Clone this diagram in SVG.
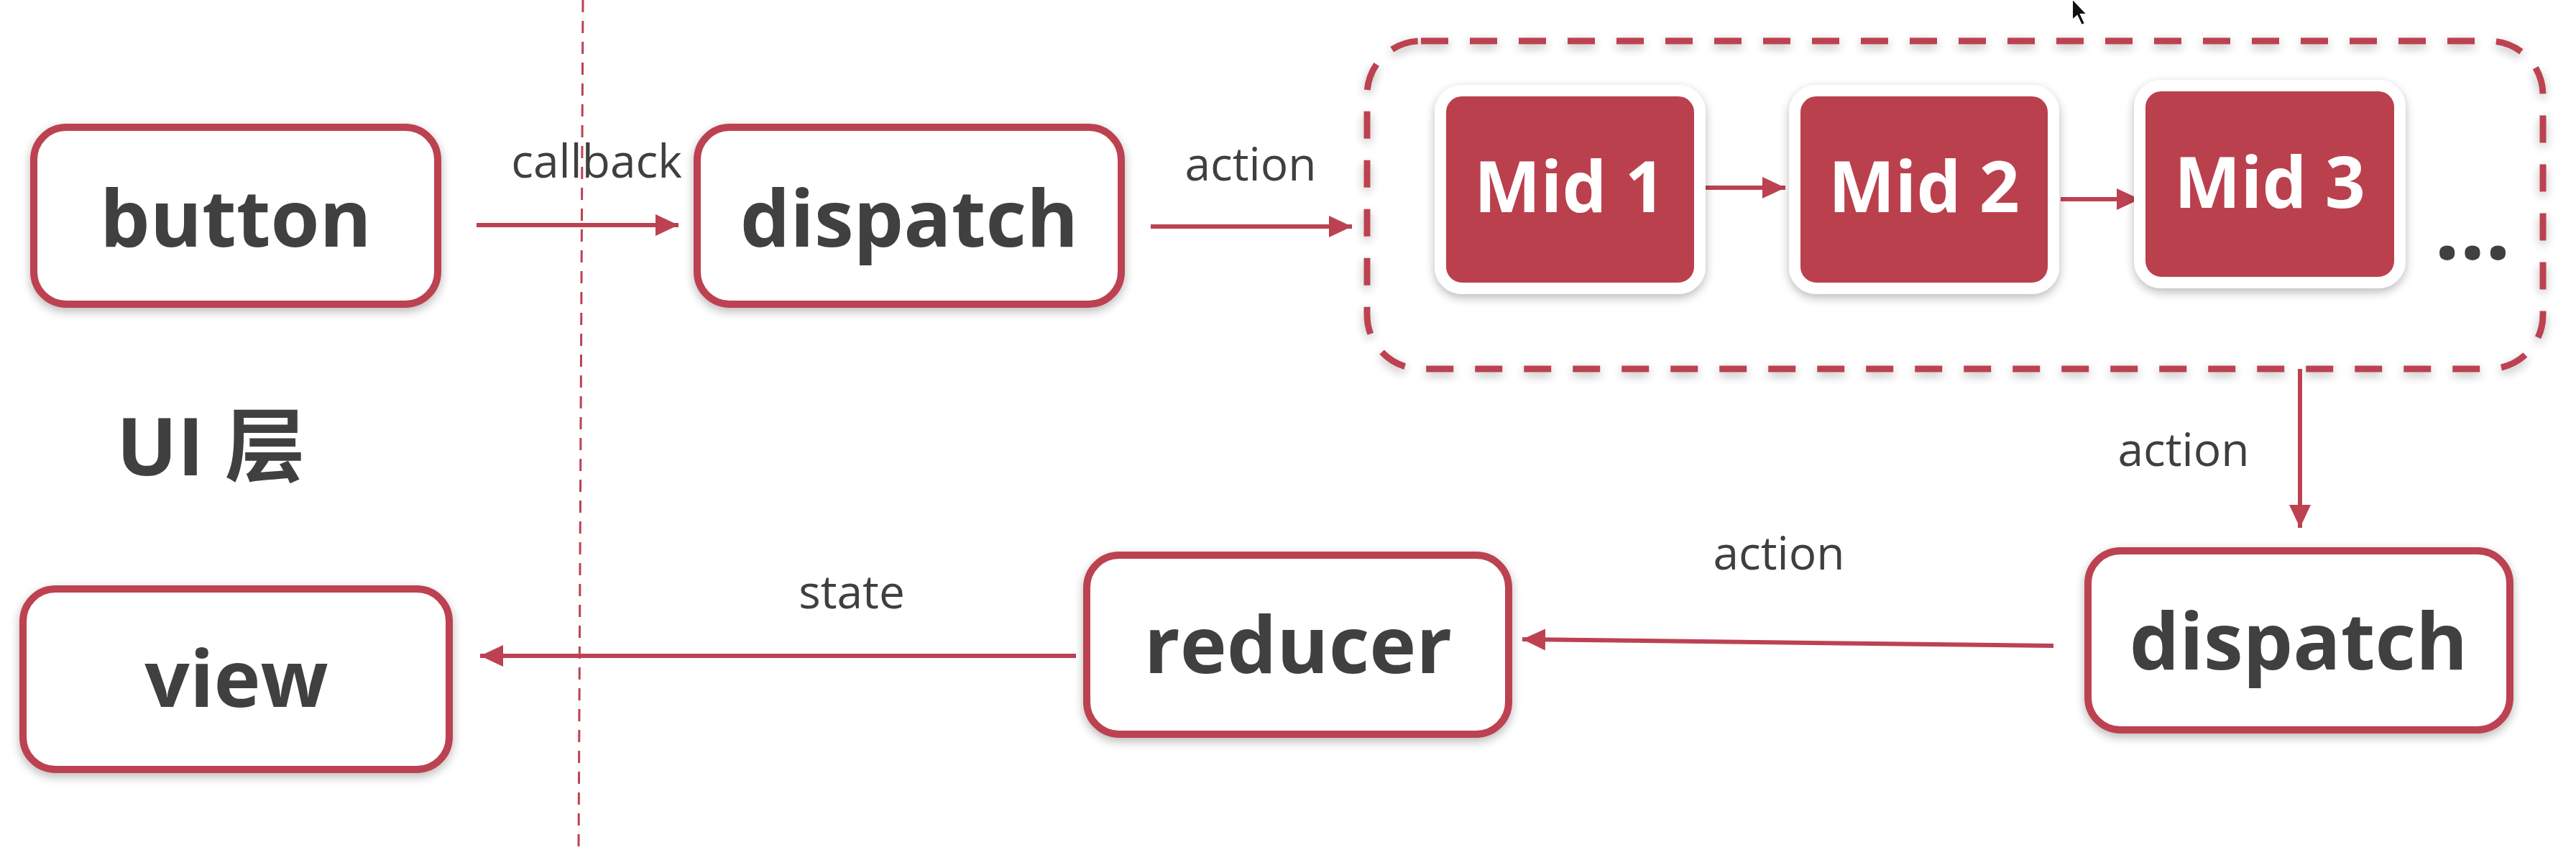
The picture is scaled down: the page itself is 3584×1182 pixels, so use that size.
<svg xmlns="http://www.w3.org/2000/svg" width="3584" height="1182" viewBox="0 0 3584 1182">
<defs>
<style>
.box{fill:#ffffff;stroke:#BC4251;stroke-width:10}
.mid{fill:#BB414E;stroke:#ffffff;stroke-width:16}
.big{font-family:"Open Sans","Noto Sans","Noto Sans CJK SC",sans-serif;font-weight:700;font-size:110px;fill:#404040;text-anchor:middle}
.midt{font-family:"Open Sans","Noto Sans",sans-serif;font-weight:700;font-size:98px;fill:#ffffff;text-anchor:middle}
.lbl{font-family:"Open Sans","Noto Sans",sans-serif;font-size:64px;fill:#3f3f3f;text-anchor:middle}
.con{stroke:#BC4251;stroke-width:6;fill:none;marker-end:url(#ah)}
</style>
<marker id="ah" markerUnits="userSpaceOnUse" markerWidth="34" markerHeight="32" refX="32" refY="16" orient="auto">
<path d="M0,1 L32,16 L0,31 Z" fill="#BC4251"/>
</marker>
<filter id="sh" x="-10%" y="-10%" width="120%" height="130%">
<feGaussianBlur in="SourceAlpha" stdDeviation="7"/>
<feOffset dx="0" dy="5" result="b"/>
<feComponentTransfer><feFuncA type="linear" slope="0.28"/></feComponentTransfer>
<feMerge><feMergeNode/><feMergeNode in="SourceGraphic"/></feMerge>
</filter>
</defs>
<rect x="0" y="0" width="3584" height="1182" fill="#ffffff"/>

<line id="divider" x1="811" y1="0" x2="805" y2="1182" stroke="#BC4251" stroke-width="3" stroke-dasharray="17 12"/>

<g id="container">
<rect x="1902" y="57" width="1636" height="456" rx="75" ry="75" fill="none" stroke="#BC4251" stroke-width="9" stroke-dasharray="38 30" filter="url(#sh)"/>
</g>

<g id="connectors">
<line class="con" x1="663" y1="313" x2="944" y2="313"/>
<line class="con" x1="1601" y1="315" x2="1881" y2="315"/>
<line class="con" x1="2370" y1="261" x2="2484" y2="261"/>
<line class="con" x1="2867" y1="277" x2="2977" y2="277"/>
<line class="con" x1="3200" y1="513" x2="3200" y2="734"/>
<line class="con" x1="2857" y1="898" x2="2118" y2="889"/>
<line class="con" x1="1497" y1="912" x2="668" y2="912"/>
<text class="lbl" x="830" y="247">callback</text>
<text class="lbl" x="1740" y="251">action</text>
<text class="lbl" x="3038" y="648">action</text>
<text class="lbl" x="2475" y="792">action</text>
<text class="lbl" x="1185" y="846">state</text>
</g>

<g id="button" filter="url(#sh)">
<rect class="box" x="47" y="177" width="562" height="246" rx="45"/>
<text class="big" x="328" y="343">button</text>
</g>

<g id="dispatch1" filter="url(#sh)">
<rect class="box" x="970" y="177" width="590" height="246" rx="45"/>
<text class="big" x="1265" y="343">dispatch</text>
</g>

<g id="mid1" filter="url(#sh)">
<rect class="mid" x="2004" y="126" width="361" height="275" rx="30"/>
<text class="midt" x="2184" y="295">Mid 1</text>
</g>

<g id="mid2" filter="url(#sh)">
<rect class="mid" x="2497" y="126" width="360" height="275" rx="30"/>
<text class="midt" x="2677" y="295">Mid 2</text>
</g>

<g id="mid3" filter="url(#sh)">
<rect class="mid" x="2977" y="119" width="362" height="274" rx="30"/>
<text class="midt" x="3158" y="289">Mid 3</text>
</g>

<g id="more">
<text x="3387" y="360" font-family="Open Sans, Noto Sans, sans-serif" font-weight="700" font-size="124" fill="#404040">...</text>
</g>

<g id="dispatch2" filter="url(#sh)">
<rect class="box" x="2905" y="766" width="587" height="249" rx="45"/>
<text class="big" x="3198" y="931">dispatch</text>
</g>

<g id="reducer" filter="url(#sh)">
<rect class="box" x="1512" y="772" width="587" height="249" rx="45"/>
<text class="big" x="1806" y="936">reducer</text>
</g>

<g id="view" filter="url(#sh)">
<rect class="box" x="32" y="819" width="593" height="251" rx="45"/>
<text class="big" x="329" y="983">view</text>
</g>

<g id="ui-layer">
<text x="162" y="661" font-family="Open Sans, Noto Sans, Noto Sans CJK SC, sans-serif" font-weight="700" font-size="112" fill="#404040">UI 层</text>
</g>

<g id="cursor">
<path d="M2883,-2 L2883,28 L2890,22 L2896,35 L2901,33 L2895,20 L2904,20 Z" fill="#111111" stroke="#ffffff" stroke-width="2"/>
</g>
</svg>
